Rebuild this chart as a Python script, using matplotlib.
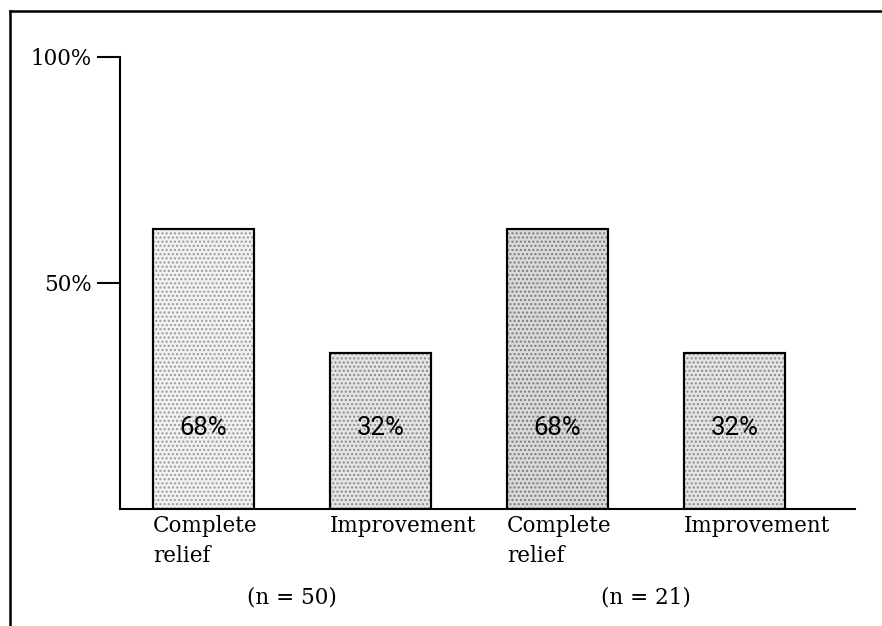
import numpy as np
import matplotlib
matplotlib.use("Agg")
import matplotlib.pyplot as plt
from matplotlib.lines import Line2D

# Data (bar heights as drawn against the axis, printed labels)
categories = ["Complete\nrelief", "Improvement", "Complete\nrelief", "Improvement"]
heights = [62, 34.5, 62, 34.5]
value_labels = ["68%", "32%", "68%", "32%"]
groups = ["(n = 50)", "(n = 21)"]
yticks = [50, 100]
ytick_labels = ["50%", "100%"]

face = ["#f1f1f1", "#e4e4e4", "#d9d9d9", "#e4e4e4"]
dots = ["#9a9a9a", "#8a8a8a", "#7a7a7a", "#8a8a8a"]

W, H = 882, 626
fig = plt.figure(figsize=(W / 100, H / 100), dpi=100)
ax = fig.add_axes([120 / W, 1 - 509 / H, 735 / W, 452 / H])

x = np.arange(len(categories))
width = 0.57

# base bars + stipple overlay
ax.bar(x, heights, width, color=face, edgecolor="black", linewidth=1.5, zorder=2)
for xi, h, c in zip(x, heights, dots):
    ax.bar(xi, h, width, fill=False, hatch="....", edgecolor=c, linewidth=0, zorder=3)
ax.bar(x, heights, width, fill=False, edgecolor="black", linewidth=1.5, zorder=4)

ax.set_xlim(-0.472, 3.68)
ax.set_ylim(0, 100)

# value labels inside the bars
for xi, lab in zip(x, value_labels):
    ax.text(xi, 18, lab, ha="center", va="center", fontsize=18.5,
            family="Roboto", color="black", zorder=5)

# category labels, left aligned under each bar
for xi, lab in zip(x, categories):
    ax.annotate(lab, xy=(xi - width / 2, 0), xycoords=("data", "axes fraction"),
                xytext=(0, -4), textcoords="offset points", ha="left", va="top",
                fontsize=15.5, family="DejaVu Serif", linespacing=1.5)

# group sizes under each pair
for i, g in enumerate(groups):
    gx = x[2 * i:2 * i + 2].mean()
    ax.annotate(g, xy=(gx, 0), xycoords=("data", "axes fraction"),
                xytext=(0, -64), textcoords="offset points", ha="center", va="center",
                fontsize=15.5, family="DejaVu Serif")

# axes styling
for s in ["top", "right"]:
    ax.spines[s].set_visible(False)
for s in ["left", "bottom"]:
    ax.spines[s].set_linewidth(1.5)
ax.set_xticks([])
ax.set_yticks(yticks)
ax.set_yticklabels(ytick_labels, family="DejaVu Serif", fontsize=15.5)
ax.set_yticks(yticks, minor=True)
ax.tick_params(axis="y", which="major", direction="out", length=16.5, width=1.5, pad=4)
ax.tick_params(axis="y", which="minor", direction="in", length=6, width=1.5)

# outer frame of the scanned figure
fig.add_artist(Line2D([10 / W, 1], [1 - 11 / H, 1 - 11 / H], color="black", lw=1.8,
                      transform=fig.transFigure))
fig.add_artist(Line2D([10 / W, 10 / W], [0, 1 - 11 / H], color="black", lw=1.8,
                      transform=fig.transFigure))

fig.savefig("out.png", dpi=100)
